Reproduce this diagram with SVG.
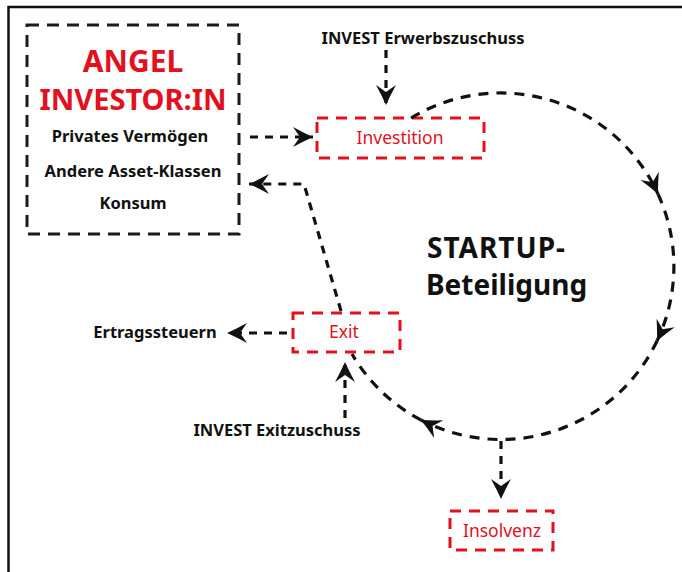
<svg xmlns="http://www.w3.org/2000/svg" width="682" height="572" viewBox="0 0 682 572">
  <style>
    .t { font-family: "Noto Sans", "Open Sans", "Liberation Sans", sans-serif; }
    .b { font-weight: 700; fill: #111; }
    .red { fill: #e3101d; }
    .box-red { fill: none; stroke: #e3101d; stroke-width: 3; stroke-dasharray: 11 8; }
    .box-black { fill: none; stroke: #1a1a1a; stroke-width: 3; stroke-dasharray: 12 8; }
    .flow { fill: none; stroke: #111; stroke-width: 3.2; stroke-dasharray: 8 7; }
    .cycle { fill: none; stroke: #111; stroke-width: 3.2; stroke-dasharray: 10 8; }
  </style>
  <defs>
    <marker id="head" viewBox="0 0 22 22" markerUnits="userSpaceOnUse" markerWidth="22" markerHeight="22" refX="20" refY="11" orient="auto">
      <path d="M0,1 Q11,7 20,11 Q11,15 0,21 L7,11 Z" fill="#111"/>
    </marker>
  </defs>

  <rect width="682" height="572" fill="#fff"/>
  <!-- frame -->
  <path d="M8.5,572 V7 H682" fill="none" stroke="#111" stroke-width="2.5"/>

  <g id="angel">
    <rect class="box-black" x="27" y="25" width="212" height="209"/>
    <text class="t red" x="133" y="72" text-anchor="middle" font-size="30" font-weight="700">ANGEL</text>
    <text class="t red" x="133" y="110" text-anchor="middle" font-size="29" font-weight="700">INVESTOR:IN</text>
    <text class="t b" x="130" y="142" text-anchor="middle" font-size="16.5">Privates Vermögen</text>
    <text class="t b" x="133" y="177" text-anchor="middle" font-size="16.5">Andere Asset-Klassen</text>
    <text class="t b" x="133" y="209" text-anchor="middle" font-size="16.5">Konsum</text>
  </g>

  <g id="erwerbszuschuss">
    <text class="t b" x="423" y="44" text-anchor="middle" font-size="16.5">INVEST Erwerbszuschuss</text>
  </g>

  <g id="investition">
    <rect class="box-red" x="317" y="118" width="167" height="40"/>
    <text class="t red" x="400" y="144" text-anchor="middle" font-size="17.5">Investition</text>
  </g>

  <g id="startup">
    <text class="t b" x="427" y="258" font-size="28" letter-spacing="1">STARTUP-</text>
    <text class="t b" x="426" y="295" font-size="28">Beteiligung</text>
  </g>

  <g id="exit">
    <rect class="box-red" x="293" y="313" width="107" height="39"/>
    <text class="t red" x="344" y="338" text-anchor="middle" font-size="17.5">Exit</text>
  </g>

  <g id="ertragssteuern">
    <text class="t b" x="155" y="338" text-anchor="middle" font-size="16.5">Ertragssteuern</text>
  </g>

  <g id="exitzuschuss">
    <text class="t b" x="277" y="436" text-anchor="middle" font-size="16.5">INVEST Exitzuschuss</text>
  </g>

  <g id="insolvenz">
    <rect class="box-red" x="450" y="511" width="103" height="39"/>
    <text class="t red" x="502" y="537" text-anchor="middle" font-size="17.5">Insolvenz</text>
  </g>

  <g id="connectors">
    <!-- capital into the investment -->
    <path class="flow" d="M250,137 H313" marker-end="url(#head)"/>
    <!-- acquisition grant -->
    <path class="flow" d="M386,50 V105" marker-end="url(#head)"/>
    <!-- investment cycle, centre (501,266) r=173 -->
    <path class="cycle" d="M411,118 A173,173 0 0 1 658,194" marker-end="url(#head)"/>
    <path class="cycle" d="M658,194 A173,173 0 0 1 657,341" marker-end="url(#head)"/>
    <path class="cycle" d="M657,341 A173,173 0 0 1 421,420" marker-end="url(#head)"/>
    <path class="cycle" d="M421,420 A173,173 0 0 1 352,354"/>
    <!-- branch to insolvency -->
    <path class="flow" d="M501,441 V499" marker-end="url(#head)"/>
    <!-- proceeds back to the investor -->
    <path class="flow" d="M341,311 L304,184 H249" marker-end="url(#head)"/>
    <!-- taxes on the exit -->
    <path class="flow" d="M287,333 H227" marker-end="url(#head)"/>
    <!-- exit grant -->
    <path class="flow" d="M345,418 V362" marker-end="url(#head)"/>
  </g>
</svg>
